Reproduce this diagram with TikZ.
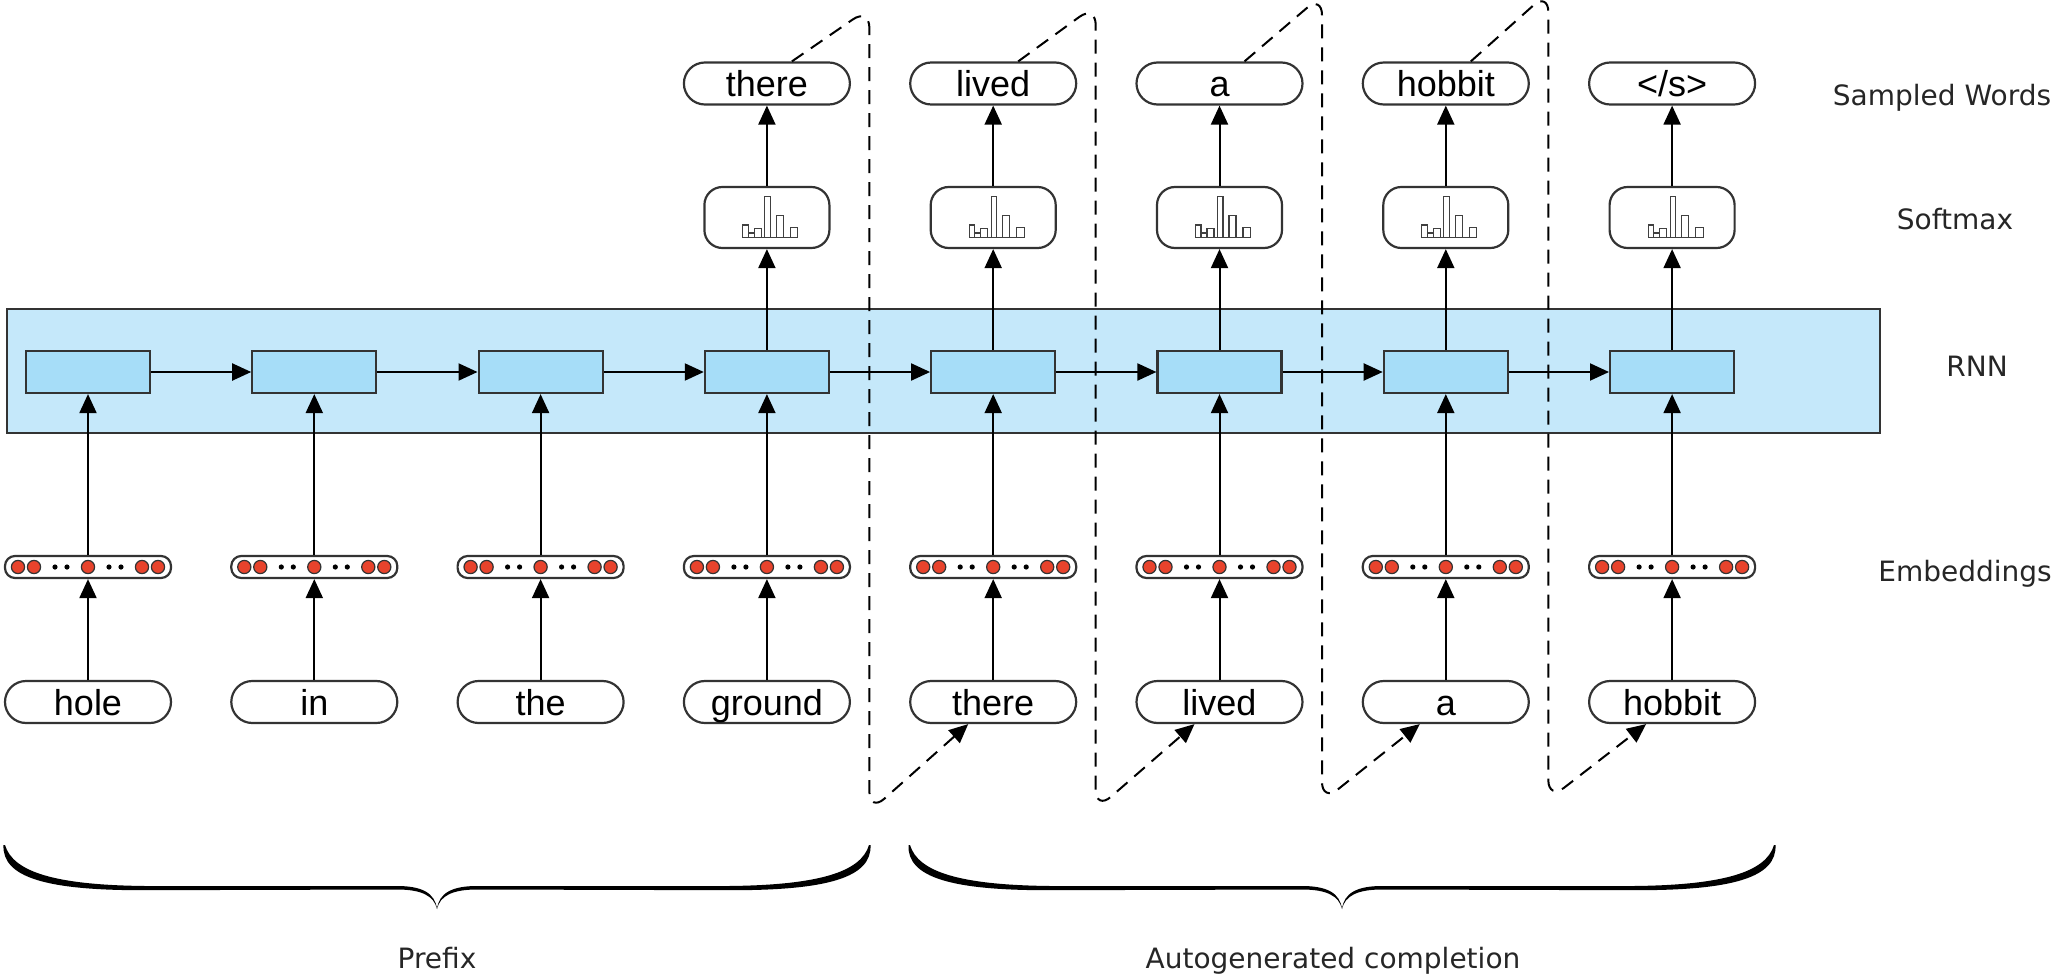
\documentclass[tikz,border=0pt]{standalone}
\usepackage{fontspec}
\setmainfont{Liberation Sans}
\newfontfamily\labelfont{DejaVu Sans}
\usetikzlibrary{arrows.meta}

\definecolor{rnnband}{HTML}{C5E8FA}
\definecolor{rnncell}{HTML}{A6DDF8}
\definecolor{embdot}{HTML}{E8432C}
\definecolor{edge}{HTML}{333333}

\newcommand\eos{</s>}

% small bar chart drawn inside a softmax box centred at x=#1
\newcommand\histo[1]{%
  \draw[line width=0.55pt, draw=black!75]
    (#1-24,237.5) -- (#1+31,237.5)
    (#1-24,237.5) rectangle (#1-18.5,225)
    (#1-18.5,237.5) rectangle (#1-12.5,233)
    (#1-12.5,237.5) rectangle (#1-5.5,228.5)
    (#1-2,237.5) rectangle (#1+3.5,196.5)
    (#1+9.5,237.5) rectangle (#1+16.5,215.5)
    (#1+23.5,237.5) rectangle (#1+31,227.5);}

% one half of a calligraphic brace, tip at the local origin, length #1
\newcommand\halfbrace[1]{%
  \fill[black]
    (-#1,845) .. controls (-#1+8,872) and (-#1+50,885) .. (-#1+140,886)
    -- (-40,886) .. controls (-15,886) and (-2,893) .. (0,909)
    .. controls (-3,896) and (-15,889.5) .. (-40,889.5)
    -- (-#1+140,890.2) .. controls (-#1+40,890.5) and (-#1-3,877) .. (-#1-1.5,845)
    -- cycle;}

\begin{document}
\begin{tikzpicture}[x=0.5pt,y=-0.5pt,
  tip/.style={-{Triangle[length=9.5pt,width=8.5pt]}},
  flow/.style={draw=black, line width=1pt, tip},
  wordbox/.style={draw=edge, line width=1.1pt, rounded corners=10.5pt,
    minimum width=83pt, minimum height=21pt, inner sep=0pt,
    text height=15pt, text depth=2pt, font=\fontsize{18}{18}\selectfont},
  embbox/.style={draw=edge, line width=1.1pt, rounded corners=5pt,
    minimum width=83pt, minimum height=11pt, inner sep=0pt},
  cellbox/.style={draw=edge, line width=1.1pt, fill=rnncell,
    minimum width=62pt, minimum height=21pt, inner sep=0pt},
  softbox/.style={draw=edge, line width=1.1pt, rounded corners=9pt,
    minimum width=62.5pt, minimum height=30.5pt, inner sep=0pt},
  rowlabel/.style={font=\labelfont\fontsize{14}{14}\selectfont,
    anchor=base, inner sep=0pt, text=black!85},
  feedback/.style={draw=black, line width=1pt, dash pattern=on 7pt off 4.5pt,
    rounded corners=10pt, tip},
]
\useasboundingbox (0,0) rectangle (2051,974);

% RNN band
\draw[draw=edge, line width=1.1pt, fill=rnnband] (7,309) rectangle (1880,433);

% input words, embeddings and recurrent cells
\foreach \i/\w in {0/hole,1/in,2/the,3/ground,4/there,5/lived,6/a,7/hobbit} {
  \pgfmathsetmacro\cx{88+226.3*\i}
  \node[wordbox] (w\i) at (\cx,702) {\w};
  \node[embbox] (e\i) at (\cx,567) {};
  \foreach \dx in {-70,-54,0,54,70}
    \draw[fill=embdot, draw=edge, line width=0.6pt] (\cx+\dx,567) circle[radius=3.3pt];
  \foreach \dx in {-33,-21,21,33}
    \fill[black] (\cx+\dx,567) circle[radius=1.3pt];
  \node[cellbox] (h\i) at (\cx,372) {};
}

% softmax outputs and sampled words
\foreach \i/\w in {3/there,4/lived,5/a,6/hobbit,7/\eos} {
  \pgfmathsetmacro\cx{88+226.3*\i}
  \node[softbox] (s\i) at (\cx,217.5) {};
  \histo{\cx}
  \node[wordbox] (o\i) at (\cx,83.5) {\w};
}

% vertical flow
\foreach \i in {0,...,7} {
  \draw[flow] (w\i) -- (e\i);
  \draw[flow] (e\i) -- (h\i);
}
\foreach \i in {3,...,7} {
  \draw[flow] (h\i) -- (s\i);
  \draw[flow] (s\i) -- (o\i);
}
% recurrence
\foreach \i [evaluate=\i as \j using int(\i+1)] in {0,...,6}
  \draw[flow] (h\i) -- (h\j);

% sampled word fed back as the next input
\draw[feedback] ([xshift=12.5pt]o3.north) -- (869.4,8) -- (869.4,812) -- ([xshift=-12.5pt]w4.south);
\draw[feedback] ([xshift=12.5pt]o4.north) -- (1095.7,5) -- (1095.7,810) -- ([xshift=-12.5pt]w5.south);
\draw[feedback] ([xshift=12.5pt]o5.north) -- (1322,-5) -- (1322,802) -- ([xshift=-13pt]w6.south);
\draw[feedback] ([xshift=12.5pt]o6.north) -- (1548.3,-8) -- (1548.3,800) -- ([xshift=-13pt]w7.south);

% braces
\begin{scope}[shift={(437,0)}] \halfbrace{432} \end{scope}
\begin{scope}[shift={(437,0)}, xscale=-1] \halfbrace{432} \end{scope}
\begin{scope}[shift={(1342,0)}] \halfbrace{432} \end{scope}
\begin{scope}[shift={(1342,0)}, xscale=-1] \halfbrace{432} \end{scope}

% labels
\node[rowlabel] (lsw) at (1942,105) {Sampled Words};
\node[rowlabel] (lsm) at (1955,229) {Softmax};
\node[rowlabel] (lrnn) at (1977,376) {RNN};
\node[rowlabel] (lemb) at (1965,581) {Embeddings};
\node[rowlabel] (lpre) at (437,968) {Prefix};
\node[rowlabel] (lauto) at (1333,968) {Autogenerated completion};
\end{tikzpicture}
\end{document}
